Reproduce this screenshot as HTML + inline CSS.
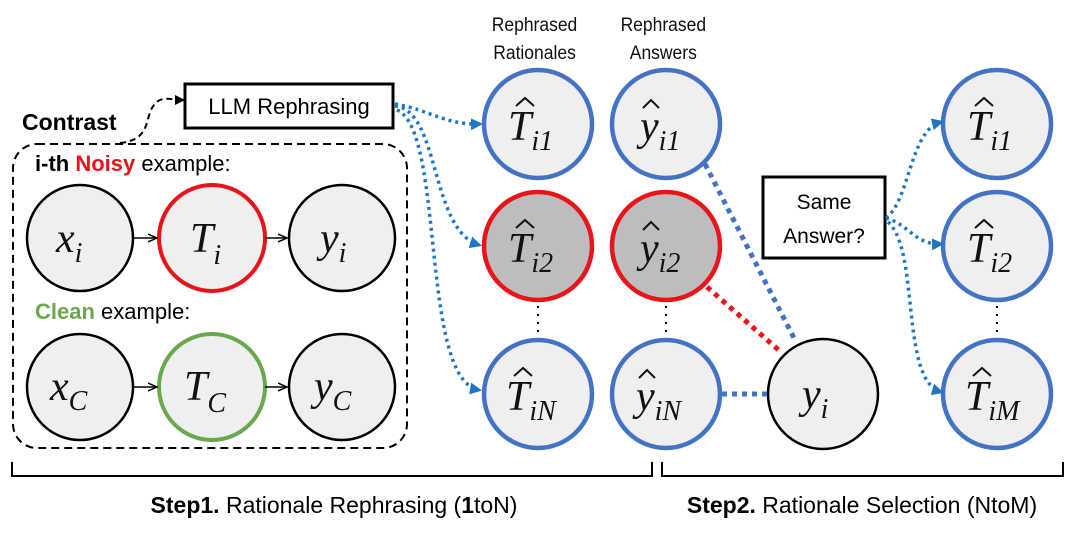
<!DOCTYPE html>
<html><head><meta charset="utf-8"><style>
html,body{margin:0;padding:0;background:#fff;}
svg{display:block;}
.s{font-family:"Liberation Sans",sans-serif;}
.m{font-family:"Liberation Serif",serif;font-style:italic;}
</style></head><body>
<svg width="1080" height="534" viewBox="0 0 1080 534" xmlns="http://www.w3.org/2000/svg">
<defs>
<marker id="ab" markerWidth="12" markerHeight="12" refX="9" refY="6" orient="auto" markerUnits="userSpaceOnUse"><path d="M0,0 L12,6 L0,12 z" fill="#1f77c4"/></marker>
<marker id="ak" markerWidth="10" markerHeight="10" refX="8" refY="5" orient="auto" markerUnits="userSpaceOnUse"><path d="M0,0 L10,5 L0,10 z" fill="#000"/></marker>
<marker id="as" markerWidth="10" markerHeight="10" refX="9" refY="5" orient="auto" markerUnits="userSpaceOnUse"><path d="M0,1 L9,5 L0,9" fill="none" stroke="#000" stroke-width="1.5"/></marker>
</defs>

<g class="s" font-size="19" text-anchor="middle" fill="#111" transform="scale(0.92,1)">
<text x="581" y="31">Rephrased</text><text x="581" y="59">Rationales</text>
<text x="721" y="31">Rephrased</text><text x="721" y="59">Answers</text>
</g>

<text x="22" y="130" class="s" font-size="23" font-weight="bold">Contrast</text>
<path d="M120,143 C150,140 145,120 152,108 C160,94 170,100 183,100" fill="none" stroke="#000" stroke-width="2" stroke-dasharray="6,4" marker-end="url(#ak)"/>
<rect x="185" y="84" width="208" height="44" fill="#fff" stroke="#000" stroke-width="3"/>
<text x="289" y="114" class="s" font-size="22" text-anchor="middle">LLM Rephrasing</text>

<rect x="13" y="144" width="394" height="304" rx="24" fill="none" stroke="#000" stroke-width="2" stroke-dasharray="8,5"/>
<text x="35" y="171" class="s" font-size="22"><tspan font-weight="bold">i-th </tspan><tspan font-weight="bold" fill="#e8141a">Noisy</tspan> example:</text>
<text x="35" y="319" class="s" font-size="22"><tspan font-weight="bold" fill="#6aa84f">Clean</tspan> example:</text>

<g fill="#efefef" stroke-width="2.5">
<circle cx="80" cy="238" r="53" stroke="#000"/>
<circle cx="212" cy="238" r="53" stroke="#e8141a" stroke-width="4"/>
<circle cx="342" cy="238" r="53" stroke="#000"/>
<circle cx="80" cy="387" r="53" stroke="#000"/>
<circle cx="212" cy="387" r="53" stroke="#6aa84f" stroke-width="4"/>
<circle cx="342" cy="387" r="53" stroke="#000"/>
</g>
<g stroke="#000" stroke-width="1.5">
<line x1="133" y1="238" x2="157" y2="238" marker-end="url(#as)"/>
<line x1="265" y1="238" x2="287" y2="238" marker-end="url(#as)"/>
<line x1="133" y1="387" x2="157" y2="387" marker-end="url(#as)"/>
<line x1="265" y1="387" x2="287" y2="387" marker-end="url(#as)"/>
</g>
<g class="m" font-size="42" fill="#111">
<text x="56" y="252">x<tspan font-size="28" dy="10">i</tspan></text>
<text x="190" y="252">T<tspan font-size="28" dy="12">i</tspan></text>
<text x="320" y="252">y<tspan font-size="28" dy="10">i</tspan></text>
<text x="50" y="400">x<tspan font-size="28" dy="10">C</tspan></text>
<text x="184" y="400">T<tspan font-size="28" dy="12">C</tspan></text>
<text x="314" y="400">y<tspan font-size="28" dy="10">C</tspan></text>
</g>

<g fill="none" stroke="#1f77c4" stroke-width="3.5" stroke-dasharray="3,4">
<path d="M395,104 C430,110 445,125 480,124" marker-end="url(#ab)"/>
<path d="M395,106 C440,110 430,230 479,245" marker-end="url(#ab)"/>
<path d="M397,110 C445,130 420,380 479,390" marker-end="url(#ab)"/>
</g>

<g stroke-width="4.5">
<circle cx="538" cy="124" r="54" fill="#efefef" stroke="#4472c4"/>
<circle cx="666" cy="124" r="54" fill="#efefef" stroke="#4472c4"/>
<circle cx="538" cy="246" r="54" fill="#bdbdbd" stroke="#e8141a"/>
<circle cx="666" cy="246" r="54" fill="#bdbdbd" stroke="#e8141a"/>
<circle cx="538" cy="394" r="54" fill="#efefef" stroke="#4472c4"/>
<circle cx="666" cy="394" r="54" fill="#efefef" stroke="#4472c4"/>
<circle cx="997" cy="124" r="54" fill="#efefef" stroke="#4472c4"/>
<circle cx="997" cy="246" r="54" fill="#efefef" stroke="#4472c4"/>
<circle cx="997" cy="394" r="54" fill="#efefef" stroke="#4472c4"/>
</g>
<circle cx="823" cy="394" r="55" fill="#efefef" stroke="#000" stroke-width="2.5"/>
<g stroke="#000" stroke-width="2" stroke-dasharray="2,6">
<line x1="538" y1="306" x2="538" y2="336"/><line x1="666" y1="306" x2="666" y2="336"/><line x1="997" y1="306" x2="997" y2="336"/>
</g>

<g fill="none" stroke-width="5" stroke-dasharray="5,5">
<line x1="705" y1="164" x2="795" y2="340" stroke="#4472c4"/>
<line x1="707" y1="287" x2="782" y2="353" stroke="#e8141a"/>
<line x1="722" y1="394" x2="768" y2="394" stroke="#4472c4"/>
</g>

<rect x="763" y="177" width="122" height="81" fill="#fff" stroke="#000" stroke-width="3"/>
<text x="824" y="209" class="s" font-size="21" text-anchor="middle">Same</text>
<text x="824" y="243" class="s" font-size="21" text-anchor="middle">Answer?</text>
<g fill="none" stroke="#1f77c4" stroke-width="3.5" stroke-dasharray="3,4">
<path d="M886,218 C910,200 910,130 941,122" marker-end="url(#ab)"/>
<path d="M886,218 C910,225 915,245 941,244" marker-end="url(#ab)"/>
<path d="M888,222 C920,250 900,380 941,392" marker-end="url(#ab)"/>
</g>

<g class="m" font-size="42" fill="#111">
<text x="508" y="140">T<tspan font-size="28" dy="10">i1</tspan></text>
<text x="508" y="262">T<tspan font-size="28" dy="10">i2</tspan></text>
<text x="506" y="410">T<tspan font-size="28" dy="10">iN</tspan></text>
<text x="640" y="140">y<tspan font-size="28" dy="10">i1</tspan></text>
<text x="640" y="262">y<tspan font-size="28" dy="10">i2</tspan></text>
<text x="636" y="410">y<tspan font-size="28" dy="10">iN</tspan></text>
<text x="967" y="140">T<tspan font-size="28" dy="10">i1</tspan></text>
<text x="967" y="262">T<tspan font-size="28" dy="10">i2</tspan></text>
<text x="965" y="410">T<tspan font-size="28" dy="10">iM</tspan></text>
<text x="802" y="408">y<tspan font-size="28" dy="10">i</tspan></text>
</g>
<g fill="none" stroke="#111" stroke-width="2">
<path d="M516,106 L525,98 L534,106"/><path d="M516,228 L525,220 L534,228"/><path d="M514,376 L523,368 L532,376"/>
<path d="M643,108 L651,100 L659,108"/><path d="M643,230 L651,222 L659,230"/><path d="M639,378 L647,370 L655,378"/>
<path d="M975,106 L984,98 L993,106"/><path d="M975,228 L984,220 L993,228"/><path d="M973,376 L982,368 L991,376"/>
</g>

<g fill="none" stroke="#000" stroke-width="2">
<path d="M12,462 L12,476 L652,476 L652,462"/>
<path d="M662,462 L662,476 L1063,476 L1063,462"/>
</g>
<text x="334" y="513" class="s" font-size="23" text-anchor="middle"><tspan font-weight="bold">Step1.</tspan> Rationale Rephrasing (<tspan font-weight="bold">1</tspan>toN)</text>
<text x="862" y="513" class="s" font-size="23" text-anchor="middle"><tspan font-weight="bold">Step2.</tspan> Rationale Selection (NtoM)</text>
</svg>
</body></html>
